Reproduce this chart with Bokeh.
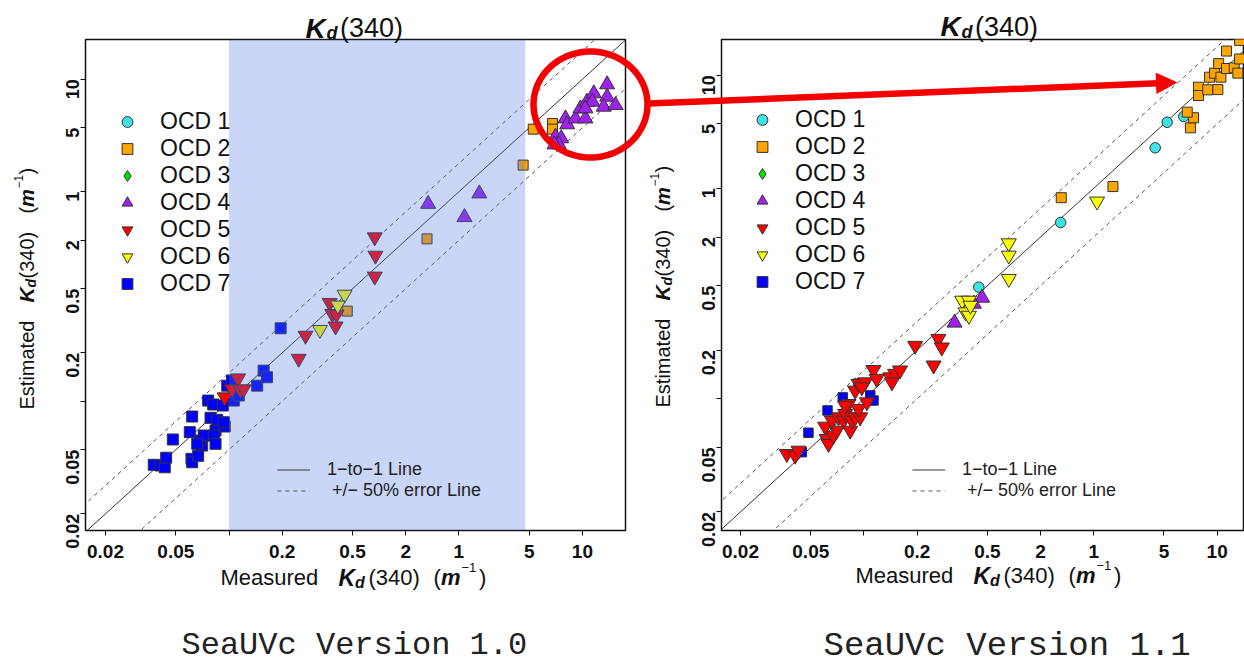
import math
import numpy as np
from bokeh.plotting import figure
from bokeh.models import (ColumnDataSource, FixedTicker, BoxAnnotation, Legend, LegendItem,
                          Label, Arrow, NormalHead, PolyAnnotation, Range1d)
from bokeh.layouts import row
from bokeh.embed import file_html
from bokeh.resources import INLINE

NAN = float("nan")

# ---------------- data ----------------
tick_values = [0.02, 0.05, 0.1, 0.2, 0.5, 1, 2, 5, 10]
tick_labels = ["0.02", "0.05", "", "0.2", "0.5", "2", "1", "5", "10"]

ocd_names = ["OCD 1", "OCD 2", "OCD 3", "OCD 4", "OCD 5", "OCD 6", "OCD 7"]
ocd_markers = ["circle", "square", "diamond", "triangle", "inverted_triangle",
               "inverted_triangle", "square"]
ocd_colors = ["#3ee4e4", "#ffa500", "#00e400", "#a020f0", "#ff0000", "#ffff00", "#0000ff"]

# SeaUVc Version 1.0
v10_ocd1_x = [NAN]
v10_ocd1_y = [NAN]
v10_ocd2_x = [0.467, 1.32, 5.27, 6.77, 6.77, 4.62]
v10_ocd2_y = [0.363, 1.02, 4.90, 5.31, 4.90, 2.93]
v10_ocd3_x = [NAN]
v10_ocd3_y = [NAN]
v10_ocd4_x = [1.339, 2.15, 2.61, 7.04, 7.59, 7.35, 6.95, 8.02, 8.20, 9.14, 10.4, 9.75,
              10.6, 11.6, 11.4, 13.8, 13.8, 13.2, 15.4, 10.4]
v10_ocd4_y = [1.68, 1.39, 1.95, 4.39, 4.29, 3.93, 3.93, 5.70, 5.24, 5.70, 5.70, 6.58,
              7.24, 8.16, 7.24, 9.28, 7.78, 6.74, 6.90, 6.58]
v10_ocd5_x = [0.0946, 0.1127, 0.104, 0.116, 0.121, 0.248, 0.271, 0.668, 0.674, 0.668,
              0.371, 0.384, 0.406, 0.401]
v10_ocd5_y = [0.106, 0.139, 0.119, 0.118, 0.119, 0.184, 0.256, 1.045, 0.804, 0.596,
              0.409, 0.349, 0.346, 0.292]
v10_ocd6_x = [0.451, 0.413, 0.327]
v10_ocd6_y = [0.460, 0.394, 0.278]
v10_ocd7_x = [0.0375, 0.0409, 0.0433, 0.0441, 0.0481, 0.0619, 0.060, 0.0613, 0.0619, 0.0669,
              0.0705, 0.069, 0.072, 0.0661, 0.0786, 0.0857, 0.0839, 0.082, 0.0839, 0.0946,
              0.0935, 0.0762, 0.0814, 0.0922, 0.0977, 0.104, 0.1064, 0.1136, 0.1444, 0.157,
              0.164, 0.196]
v10_ocd7_y = [0.0403, 0.0399, 0.0389, 0.0446, 0.0579, 0.0804, 0.0643, 0.0439, 0.0418, 0.0458,
              0.0531, 0.057, 0.0613, 0.0544, 0.0789, 0.0767, 0.0658, 0.0613, 0.0544, 0.0697,
              0.0741, 0.101, 0.0955, 0.0941, 0.125, 0.1346, 0.101, 0.1086, 0.125, 0.155,
              0.141, 0.284]

# SeaUVc Version 1.1
v11_ocd1_x = [0.447, 1.30, 4.46, 5.21, 6.47]
v11_ocd1_y = [0.490, 1.23, 3.56, 5.12, 5.56]
v11_ocd2_x = [1.31, 2.57, 7.06, 7.35, 6.77, 7.84, 7.84, 8.85, 10.1, 9.06, 9.67, 10.5,
              10.2, 11.3, 11.3, 12.5, 13.1, 13.4, 13.4]
v11_ocd2_y = [1.75, 2.05, 4.73, 5.46, 5.91, 8.43, 7.49, 8.12, 8.15, 9.72, 10.3, 9.72,
              11.8, 14.1, 11.0, 11.1, 10.3, 12.6, 16.4]
v11_ocd3_x = [NAN]
v11_ocd3_y = [NAN]
v11_ocd4_x = [0.326, 0.467, 0.419]
v11_ocd4_y = [0.295, 0.421, 0.386]
v11_ocd5_x = [0.0366, 0.0408, 0.0426, 0.0603, 0.0616, 0.063, 0.0673, 0.0702, 0.0658, 0.0718,
              0.0766, 0.0783, 0.0836, 0.0854, 0.0892, 0.0952, 0.0932, 0.0818, 0.104, 0.0892,
              0.0932, 0.1016, 0.0972, 0.1133, 0.118, 0.141, 0.150, 0.160, 0.144, 0.195,
              0.264, 0.276, 0.248, 0.0783]
v11_ocd5_y = [0.0457, 0.0446, 0.0479, 0.0674, 0.0566, 0.0527, 0.0593, 0.0637, 0.0735, 0.077,
              0.0735, 0.0808, 0.0637, 0.0735, 0.077, 0.077, 0.0867, 0.0931, 0.0953, 0.1126,
              0.124, 0.1267, 0.118, 0.151, 0.133, 0.136, 0.143, 0.150, 0.1267, 0.213,
              0.235, 0.208, 0.161, 0.0909]
v11_ocd6_x = [0.661, 0.661, 0.661, 0.360, 0.393, 0.376, 0.393, 0.401, 2.09]
v11_ocd6_y = [0.916, 0.769, 0.552, 0.405, 0.405, 0.343, 0.327, 0.377, 1.66]
v11_ocd7_x = [0.0485, 0.0622, 0.0759, 0.1086, 0.1133, 0.0445, 0.0932]
v11_ocd7_y = [0.0617, 0.0847, 0.102, 0.105, 0.0976, 0.0468, 0.124]

shade_range = [0.1, 4.75]          # highlighted measured range in version 1.0
one_to_one_x = [0.001, 100.0]
error_factors = [1.5, 0.5]

# ---------------- layout ----------------
W, H = 1244, 665
FONT = "Liberation Sans"
TOP, BOTTOM = 39, 530        # common frame top / bottom (rows align frames)


def log_range(p_lo, p_hi, p_ref, per_decade, sign):
    """value range spanning pixels p_lo..p_hi, given 0.02 at pixel p_ref"""
    f = lambda p: 0.02 * 10 ** (sign * (p - p_ref) / per_decade)
    return f(p_lo), f(p_hi)


# frame edges in page pixels; axis scale
LF = dict(cx=0, cw=655, left=85, right=625)
RF = dict(cx=655, cw=589, left=721, right=1244)
LF["x0"], LF["x1"] = log_range(LF["left"], LF["right"], 105.0, 176.7, 1)
LF["y0"], LF["y1"] = log_range(BOTTOM, TOP, 513.3, 161.0, -1)
RF["x0"], RF["x1"] = log_range(RF["left"], RF["right"], 740.0, 176.6, 1)
RF["y0"], RF["y1"] = log_range(BOTTOM, TOP, 511.4, 161.8, -1)


def make_fig(F):
    p = figure(width=F["cw"], height=H, x_axis_type="log", y_axis_type="log",
               x_range=Range1d(F["x0"], F["x1"]), y_range=Range1d(F["y0"], F["y1"]),
               output_backend="svg", toolbar_location=None,
               min_border_left=F["left"] - F["cx"],
               min_border_right=F["cx"] + F["cw"] - F["right"],
               min_border_top=TOP, min_border_bottom=H - BOTTOM)
    p.xgrid.visible = False
    p.ygrid.visible = False
    p.background_fill_color = "white"
    p.border_fill_color = "white"
    p.outline_line_color = "#111111"
    p.outline_line_width = 1.5
    overrides = {v: l for v, l in zip(tick_values, tick_labels)}
    for ax in (p.xaxis[0], p.yaxis[0]):
        ax.ticker = FixedTicker(ticks=tick_values)
        ax.major_label_overrides = overrides
        ax.major_label_text_font = FONT
        ax.major_label_text_font_style = "bold"
        ax.major_label_text_color = "#111111"
        ax.major_tick_in = 0
        ax.major_tick_out = 5
        ax.major_tick_line_color = "#111111"
        ax.minor_tick_line_color = None
        ax.axis_line_color = None
    p.xaxis.major_label_text_font_size = "19px"
    p.xaxis.major_label_standoff = 9
    p.yaxis.major_label_text_font_size = "18px"
    p.yaxis.major_label_orientation = math.pi / 2
    p.yaxis.major_label_standoff = 8
    return p


def build_panel(F, series, sizes, shade, pt_leg, ln_leg):
    p = make_fig(F)
    r_one = p.line(one_to_one_x, [v for v in one_to_one_x], line_color="#333333", line_width=1)
    r_err = None
    for f in error_factors:
        r = p.line(one_to_one_x, [v * f for v in one_to_one_x], line_color="#555555",
                   line_width=1, line_dash="4 4")
        r_err = r_err or r
    renderers = [None] * 7
    for i in [6, 0, 1, 2, 3, 4, 5]:
        xs, ys = series[i]
        src = ColumnDataSource(data=dict(x=np.array(xs, dtype=float), y=np.array(ys, dtype=float)))
        renderers[i] = p.scatter("x", "y", source=src, marker=ocd_markers[i], size=sizes[i],
                                 fill_color=ocd_colors[i], fill_alpha=1.0,
                                 line_color="#333333", line_width=1)
    if shade is not None:
        p.add_layout(BoxAnnotation(left=shade[0], right=shade[1], fill_color="#4b76e4",
                                   fill_alpha=0.3, line_color=None))
    leg = Legend(items=[LegendItem(label=ocd_names[i], renderers=[renderers[i]]) for i in range(7)],
                 location=pt_leg, padding=0, margin=0, spacing=0, glyph_width=30, glyph_height=27,
                 label_height=27, label_standoff=18, label_text_font=FONT,
                 label_text_font_size="23px", label_text_color="#111111",
                 border_line_color=None, background_fill_alpha=0)
    p.add_layout(leg, "center")
    leg2 = Legend(items=[LegendItem(label="1\u2212to\u22121 Line", renderers=[r_one]),
                         LegendItem(label=" +/\u2212 50% error Line", renderers=[r_err])],
                  location=ln_leg, padding=0, margin=0, spacing=0, glyph_width=33, glyph_height=19,
                  label_height=19, label_standoff=17, label_text_font=FONT,
                  label_text_font_size="18px", label_text_color="#222222",
                  border_line_color=None, background_fill_alpha=0)
    p.add_layout(leg2, "center")
    return p


left_series = [(v10_ocd1_x, v10_ocd1_y), (v10_ocd2_x, v10_ocd2_y), (v10_ocd3_x, v10_ocd3_y),
               (v10_ocd4_x, v10_ocd4_y), (v10_ocd5_x, v10_ocd5_y), (v10_ocd6_x, v10_ocd6_y),
               (v10_ocd7_x, v10_ocd7_y)]
right_series = [(v11_ocd1_x, v11_ocd1_y), (v11_ocd2_x, v11_ocd2_y), (v11_ocd3_x, v11_ocd3_y),
                (v11_ocd4_x, v11_ocd4_y), (v11_ocd5_x, v11_ocd5_y), (v11_ocd6_x, v11_ocd6_y),
                (v11_ocd7_x, v11_ocd7_y)]

pl = build_panel(LF, left_series, [11, 10, 11, 15, 15, 15, 11], shade_range, (27, 233), (192, 29))
pr = build_panel(RF, right_series, [10.5, 10, 11, 15, 15, 15, 9.5], None, (26, 235), (191, 29))

# ---------------- transparent overlay (own root) for titles, axis titles, captions, highlight ----
ov = figure(width=W, height=H, x_range=Range1d(0, W), y_range=Range1d(H, 0),
            output_backend="svg", toolbar_location=None,
            x_axis_location=None, y_axis_location=None,
            min_border_left=0, min_border_right=0, min_border_top=0, min_border_bottom=0)
ov.grid.visible = False
ov.outline_line_color = None
ov.background_fill_alpha = 0
ov.border_fill_alpha = 0
ov.styles = {"position": "absolute", "left": "0px", "top": "0px", "z-index": "10"}

SHIFT = 8.0   # the label anchor renders this many px "below" the requested baseline


def add_text(text, px, py, size, style="normal", angle=0.0, font=FONT, color="#111111",
             shift=SHIFT):
    if angle:
        px -= shift
    else:
        py -= shift
    ov.add_layout(Label(x=px, y=py, text=text, text_font=font,
                        text_font_size=f"{size}px", text_font_style=style,
                        text_align="left", text_baseline="alphabetic",
                        angle=angle, text_color=color))


def decorate_labels(dx, tdy, xdy, ybx, ydy):
    # title  K_d(340)
    add_text("K", 305 + dx, 33.5 + tdy, 28, "bold italic", shift=6)
    add_text("d", 326 + dx, 38.5 + tdy, 18, "bold italic", shift=6)
    add_text("(340)", 339.5 + dx, 33.5 + tdy, 27, shift=6)
    # x axis title
    add_text("Measured", 220 + dx, 585 + xdy, 22)
    add_text("K", 338 + dx, 585 + xdy, 23, "bold italic")
    add_text("d", 354.5 + dx, 589.5 + xdy, 16, "bold italic")
    add_text("(340)", 368 + dx, 585 + xdy, 22)
    add_text("(", 433 + dx, 585 + xdy, 22)
    add_text("m", 440.5 + dx, 585 + xdy, 22, "bold italic")
    add_text("\u22121", 461 + dx, 575 + xdy, 13)
    add_text(")", 478.5 + dx, 585 + xdy, 22)
    # y axis title (rotated)
    a = math.pi / 2
    add_text("Estimated", ybx, 409 + ydy, 20, angle=a)
    add_text("K", ybx, 302 + ydy, 21, "bold italic", angle=a)
    add_text("d", ybx + 4, 287 + ydy, 14, "bold italic", angle=a)
    add_text("(340)", ybx, 278 + ydy, 20, angle=a)
    add_text("(", ybx, 213 + ydy, 20, angle=a)
    add_text("m", ybx, 206.5 + ydy, 20, "bold italic", angle=a)
    add_text("\u22121", ybx - 8, 188 + ydy, 12, angle=a)
    add_text(")", ybx, 174 + ydy, 20, angle=a)


decorate_labels(0, 0, 0, 34, 0)
decorate_labels(635, -1.5, -2, 670, -2)

add_text("SeaUVc Version 1.0", 181, 645, 32, font="Liberation Mono", color="#222222", shift=0)
add_text("SeaUVc Version 1.1", 823, 645, 34, font="Liberation Mono", color="#222222", shift=0)

# red highlight circle (left panel) and arrow pointing into the right panel
RED = "#f50000"
ang = [2 * math.pi * k / 90 for k in range(91)]
cxp, cyp, rx, ry = 590, 104, 57, 53
ov.add_layout(PolyAnnotation(xs=[cxp + rx * math.cos(t) for t in ang],
                             ys=[cyp + ry * math.sin(t) for t in ang],
                             line_color=RED, line_alpha=1.0, line_width=6.5,
                             fill_color=None, fill_alpha=0))
ov.add_layout(Arrow(x_start=648, y_start=103, x_end=1176, y_end=82,
                    end=NormalHead(size=20, fill_color=RED, line_color=RED, line_width=1),
                    line_color=RED, line_width=6.5))

plots = row(pl, pr)
open("out.html", "w").write(file_html([plots, ov], INLINE))
